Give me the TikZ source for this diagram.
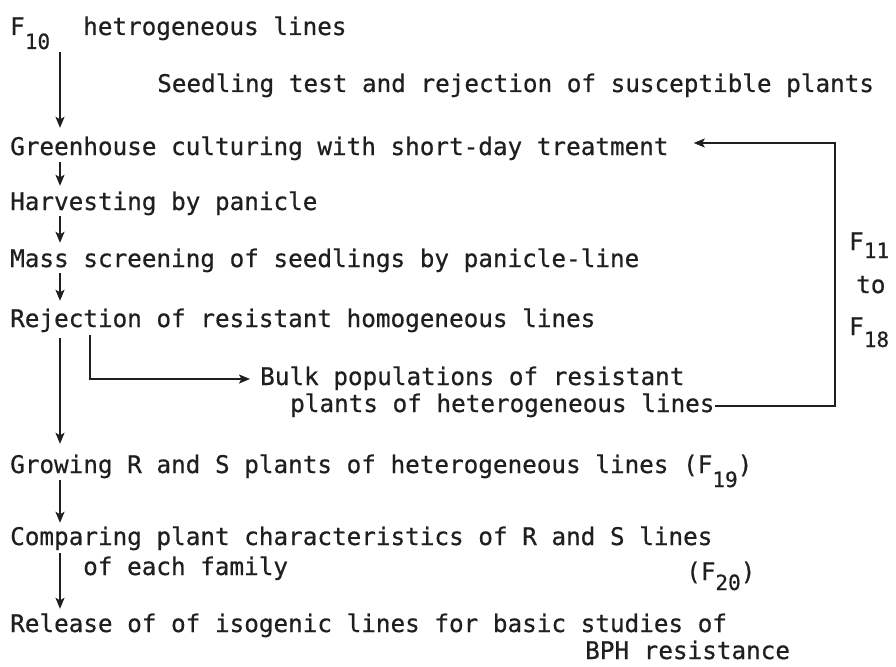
\documentclass[tikz,border=0pt]{standalone}
\usepackage{fontspec}
\newfontfamily\tw[FakeBold=0.6]{DejaVu Sans Mono}
\usetikzlibrary{arrows.meta}
\newcommand{\fsub}[2][12pt]{\raisebox{-#1}{\fontsize{21}{21}\selectfont #2}}
\begin{document}
\begin{tikzpicture}[x=1pt,y=-1pt,
  txt/.style={anchor=base west, inner sep=0pt, text height=18pt, text depth=6pt,
    font=\tw\fontsize{24.3}{29}\selectfont, text=black!88},
  arr/.style={draw=black!88, line width=1.6pt, -{Stealth[length=11pt,width=9pt,inset=2.5pt]}},
  ln/.style={draw=black!88, line width=1.6pt}]
\useasboundingbox[fill=white] (0,0) rectangle (896,666);
% text lines
\node[txt] (f10) at (10,35) {F\fsub[14pt]{10}};
\node[txt] (het) at (83,35) {hetrogeneous lines};
\node[txt] (seed) at (157,92) {Seedling test and rejection of susceptible plants};
\node[txt] (green) at (10,155) {Greenhouse culturing with short-day treatment};
\node[txt] (harv) at (10,210) {Harvesting by panicle};
\node[txt] (mass) at (10,267) {Mass screening of seedlings by panicle-line};
\node[txt] (rej) at (10,327) {Rejection of resistant homogeneous lines};
\node[txt] (bulk1) at (260,385) {Bulk populations of resistant};
\node[txt] (bulk2) at (290,412) {plants of heterogeneous lines};
\node[txt] (f11) at (849,250) {F\fsub[8pt]{11}};
\node[txt] (to) at (856,293) {to};
\node[txt] (f18) at (849,335) {F\fsub[12pt]{18}};
\node[txt] (grow) at (10,473) {Growing R and S plants of heterogeneous lines (F\fsub[14pt]{19})};
\node[txt] (comp) at (10,545) {Comparing plant characteristics of R and S lines};
\node[txt] (each) at (83,575) {of each family};
\node[txt] (f20) at (686,580) {(F\fsub[10pt]{20})};
\node[txt] (rel) at (10,632) {Release of of isogenic lines for basic studies of};
\node[txt] (bph) at (585,659) {BPH resistance};
% main column arrows
\draw[arr, shorten <=11pt, shorten >=9pt] ([xshift=50pt]f10.south west) -- ([xshift=50pt]green.north west);
\draw[arr, shorten <=1pt, shorten >=6pt] ([xshift=50pt]green.south west) -- ([xshift=50pt]harv.north west);
\draw[arr, shorten <=0pt, shorten >=6pt] ([xshift=50pt]harv.south west) -- ([xshift=50pt]mass.north west);
\draw[arr, shorten <=0pt, shorten >=8pt] ([xshift=50pt]mass.south west) -- ([xshift=50pt]rej.north west);
\draw[arr, shorten <=5pt, shorten >=11pt] ([xshift=50pt]rej.south west) -- ([xshift=50pt]grow.north west);
\draw[arr, shorten <=1pt, shorten >=4pt] ([xshift=50pt]grow.south west) -- ([xshift=50pt]comp.north west);
\draw[arr, shorten <=2pt, shorten >=5pt] ([xshift=50pt]comp.south west) -- ([xshift=50pt]rel.north west);
% branch to bulk populations
\draw[arr, shorten <=2pt, shorten >=10pt] ([xshift=80pt]rej.south west) |- (bulk1.west);
% loop back to greenhouse
\coordinate (c1) at (835,406);
\coordinate (c2) at (835,143);
\draw[arr] (bulk2.east) -- (c1) -- (c2) -- ([shift={(25,-6)}]green.east);
\end{tikzpicture}
\end{document}
